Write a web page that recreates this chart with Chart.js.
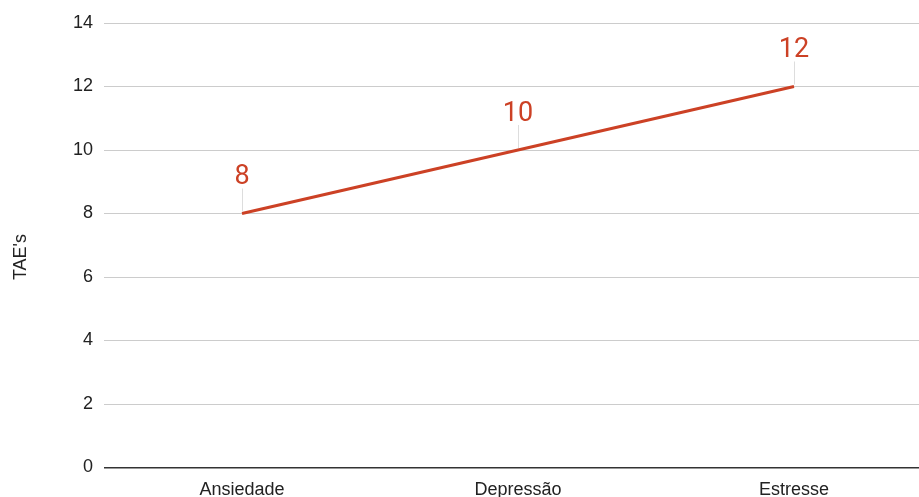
<!DOCTYPE html>
<html>
<head>
<meta charset="utf-8">
<script src="https://cdn.jsdelivr.net/npm/chart.js@4/dist/chart.umd.min.js"></script>
<style>
    html, body { margin: 0; padding: 0; background: #fff; overflow: hidden; }
    #wrap { width: 932px; height: 520px; }
</style>
</head>
<body>
<div id="wrap"><canvas id="myChart" width="932" height="520"></canvas></div>
<script>
// Chart data
const categories = ['Ansiedade', 'Depressão', 'Estresse'];
const taeValues = [8, 10, 12];
const yTicks = [0, 2, 4, 6, 8, 10, 12, 14];
const yTitle = "TAE's";

const lineColor = '#cc4125';
const axisFont = "'Liberation Sans', Arial, sans-serif";

// Draws the value labels with a small leader line above each point
const valueLabels = {
    id: 'valueLabels',
    afterDatasetsDraw(chart) {
        const ctx = chart.ctx;
        const meta = chart.getDatasetMeta(0);
        ctx.save();
        meta.data.forEach((pt, i) => {
            ctx.strokeStyle = '#dddddd';
            ctx.lineWidth = 1;
            ctx.beginPath();
            ctx.moveTo(Math.round(pt.x) + 0.5, pt.y - 2);
            ctx.lineTo(Math.round(pt.x) + 0.5, pt.y - 25);
            ctx.stroke();
            ctx.fillStyle = lineColor;
            ctx.font = '27px Roboto, sans-serif';
            ctx.textAlign = 'center';
            ctx.textBaseline = 'middle';
            ctx.fillText(String(taeValues[i]), pt.x, pt.y - 36);
        });
        ctx.restore();
    }
};

// Vertical axis title, placed like the original
const axisTitle = {
    id: 'axisTitle',
    afterDraw(chart) {
        const ctx = chart.ctx;
        ctx.save();
        ctx.translate(21, 257);
        ctx.rotate(-Math.PI / 2);
        ctx.fillStyle = '#222';
        ctx.font = '18px ' + axisFont;
        ctx.textAlign = 'center';
        ctx.textBaseline = 'middle';
        ctx.fillText(yTitle, 0, 0);
        ctx.restore();
    }
};

const ctx = document.getElementById('myChart').getContext('2d');
new Chart(ctx, {
    type: 'line',
    data: {
        labels: categories,
        datasets: [{
            label: yTitle,
            data: taeValues,
            borderColor: lineColor,
            backgroundColor: lineColor,
            borderWidth: 3,
            pointRadius: 0,
            tension: 0
        }]
    },
    options: {
        responsive: false,
        animation: false,
        layout: { padding: { top: 23, right: 0, bottom: 0, left: 0 } },
        plugins: {
            legend: { display: false },
            tooltip: { enabled: false }
        },
        scales: {
            x: {
                offset: true,
                grid: { display: false },
                border: { display: false },
                ticks: {
                    color: '#222',
                    padding: 4,
                    maxRotation: 0,
                    font: { family: axisFont, size: 18 }
                },
                afterFit: scale => { scale.height = 52.5; }
            },
            y: {
                min: 0,
                max: 14,
                afterBuildTicks: scale => { scale.ticks = yTicks.map(v => ({ value: v })); },
                grid: {
                    drawTicks: false,
                    lineWidth: c => c.tick && c.tick.value === 0 ? 1.5 : 1,
                    color: c => c.tick && c.tick.value === 0 ? '#333333' : '#cccccc'
                },
                border: { display: false },
                ticks: {
                    color: '#222',
                    padding: 11,
                    font: { family: axisFont, size: 18 }
                },
                afterFit: scale => { scale.width = 104; }
            }
        }
    },
    plugins: [valueLabels, axisTitle]
});
</script>
</body>
</html>
